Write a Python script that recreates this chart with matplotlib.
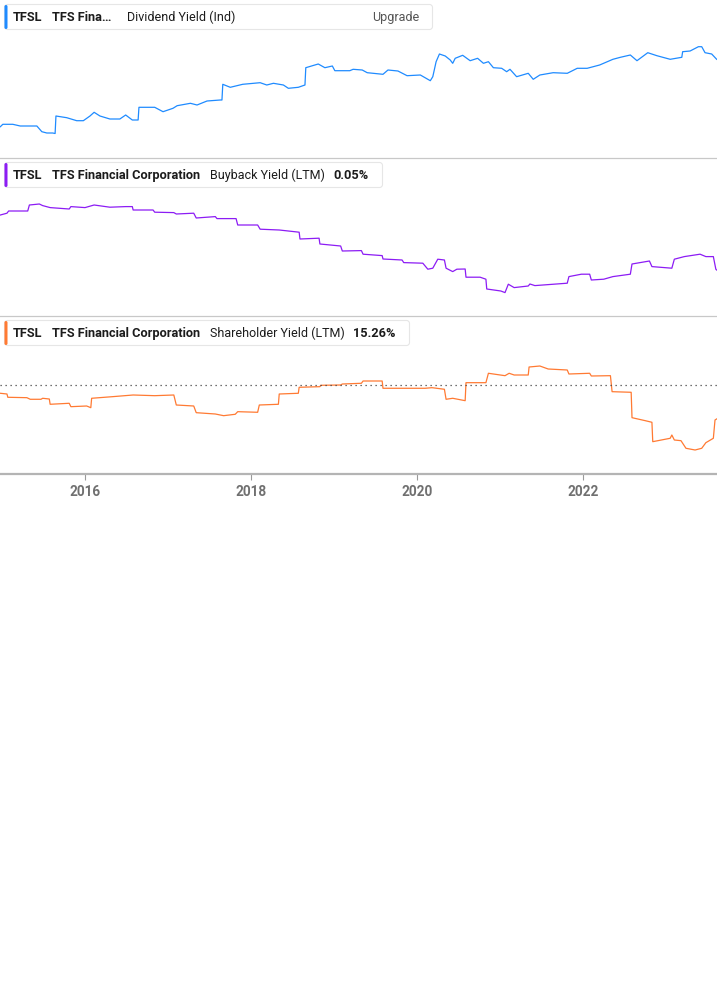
import matplotlib
matplotlib.use("Agg")
import matplotlib.pyplot as plt
from matplotlib.patches import FancyBboxPatch

# ---------------- data (decimal years, values in %) ----------------
div_years = [2014.98, 2015.01, 2015.13, 2015.22, 2015.42, 2015.48, 2015.54, 2015.61, 2015.64,
             2015.65, 2015.78, 2015.90, 2015.98, 2016.06, 2016.11, 2016.18, 2016.30, 2016.42,
             2016.49, 2016.57, 2016.64, 2016.65, 2016.75, 2016.84, 2016.94, 2017.06, 2017.11,
             2017.27, 2017.35, 2017.47, 2017.63, 2017.65, 2017.66, 2017.75, 2017.90, 2018.11,
             2018.19, 2018.27, 2018.39, 2018.45, 2018.57, 2018.65, 2018.66, 2018.81, 2018.89,
             2018.98, 2019.01, 2019.19, 2019.23, 2019.34, 2019.40, 2019.59, 2019.65, 2019.77,
             2019.88, 2020.04, 2020.16, 2020.19, 2020.23, 2020.27, 2020.34, 2020.40, 2020.43,
             2020.46, 2020.55, 2020.64, 2020.73, 2020.80, 2020.86, 2020.92, 2021.02, 2021.08,
             2021.12, 2021.20, 2021.34, 2021.40, 2021.48, 2021.64, 2021.81, 2021.93, 2022.05,
             2022.20, 2022.36, 2022.45, 2022.57, 2022.65, 2022.78, 2022.89, 2023.05, 2023.19,
             2023.20, 2023.29, 2023.39, 2023.43, 2023.47, 2023.55, 2023.61]
div_values = [1.33, 1.57, 1.57, 1.40, 1.40, 0.83, 0.70, 0.70, 0.65,
              2.40, 2.23, 1.93, 1.93, 2.40, 2.77, 2.40, 2.10, 2.10,
              2.50, 2.00, 2.00, 3.27, 3.27, 3.27, 2.83, 3.17, 3.43,
              3.67, 3.50, 3.90, 4.00, 4.00, 5.57, 5.27, 5.57, 5.73,
              5.50, 5.67, 5.50, 5.17, 5.27, 5.50, 7.23, 7.60, 7.23,
              7.40, 6.93, 6.93, 7.07, 7.00, 6.73, 6.57, 7.00, 6.90,
              6.43, 6.50, 5.93, 6.33, 7.83, 8.60, 8.40, 8.00, 7.67,
              8.17, 8.47, 7.93, 8.17, 7.67, 7.83, 7.23, 7.17, 6.83,
              7.07, 6.33, 6.67, 6.07, 6.50, 6.73, 6.67, 7.17, 7.17,
              7.50, 8.07, 8.27, 8.50, 7.93, 8.73, 8.43, 8.07, 8.27,
              8.83, 8.90, 9.33, 9.33, 8.73, 8.60, 8.07]

buy_years = [2014.98, 2015.06, 2015.08, 2015.31, 2015.33, 2015.45, 2015.49, 2015.58, 2015.81,
             2015.83, 2016.00, 2016.11, 2016.30, 2016.49, 2016.57, 2016.58, 2016.82, 2016.84,
             2017.07, 2017.10, 2017.31, 2017.34, 2017.57, 2017.59, 2017.82, 2017.84, 2018.08,
             2018.11, 2018.34, 2018.58, 2018.59, 2018.82, 2018.83, 2019.08, 2019.10, 2019.33,
             2019.35, 2019.58, 2019.59, 2019.82, 2019.84, 2020.07, 2020.13, 2020.19, 2020.25,
             2020.33, 2020.35, 2020.43, 2020.48, 2020.58, 2020.59, 2020.76, 2020.83, 2020.84,
             2021.01, 2021.06, 2021.10, 2021.17, 2021.34, 2021.36, 2021.42, 2021.81, 2021.83,
             2021.98, 2022.08, 2022.10, 2022.25, 2022.36, 2022.57, 2022.59, 2022.80, 2022.83,
             2023.07, 2023.10, 2023.22, 2023.41, 2023.48, 2023.57, 2023.60, 2023.61]
buy_values = [4.25, 4.34, 4.45, 4.45, 4.75, 4.80, 4.72, 4.62, 4.55,
              4.67, 4.62, 4.75, 4.64, 4.67, 4.67, 4.50, 4.50, 4.39,
              4.37, 4.30, 4.34, 4.10, 4.17, 4.07, 4.07, 3.75, 3.75,
              3.54, 3.50, 3.39, 3.05, 3.09, 2.80, 2.70, 2.45, 2.47,
              2.29, 2.22, 2.05, 2.00, 1.87, 1.84, 1.54, 1.59, 2.04,
              2.00, 1.59, 1.42, 1.54, 1.55, 1.14, 1.14, 1.04, 0.55,
              0.45, 0.37, 0.79, 0.62, 0.70, 0.80, 0.72, 0.84, 1.17,
              1.29, 1.29, 1.00, 1.04, 1.17, 1.29, 1.80, 1.95, 1.67,
              1.59, 2.04, 2.17, 2.29, 2.17, 2.17, 1.54, 1.50]

sh_years = [2014.98, 2015.06, 2015.07, 2015.30, 2015.34, 2015.47, 2015.49, 2015.57, 2015.58,
            2015.81, 2015.83, 2016.02, 2016.07, 2016.08, 2016.33, 2016.58, 2016.84, 2017.07,
            2017.10, 2017.31, 2017.34, 2017.57, 2017.67, 2017.81, 2017.84, 2018.08, 2018.10,
            2018.33, 2018.34, 2018.57, 2018.58, 2018.83, 2018.84, 2019.08, 2019.10, 2019.33,
            2019.35, 2019.58, 2019.59, 2020.10, 2020.18, 2020.33, 2020.35, 2020.43, 2020.58,
            2020.59, 2020.83, 2020.86, 2021.06, 2021.11, 2021.17, 2021.34, 2021.35, 2021.48,
            2021.58, 2021.81, 2021.83, 2022.08, 2022.10, 2022.33, 2022.35, 2022.58, 2022.59,
            2022.75, 2022.83, 2022.84, 2023.05, 2023.07, 2023.10, 2023.18, 2023.24, 2023.35,
            2023.43, 2023.48, 2023.57, 2023.59, 2023.61]
sh_values = [21.68, 21.50, 20.68, 20.58, 20.18, 20.18, 20.43, 20.25, 18.93,
             19.18, 18.33, 18.50, 18.08, 20.43, 20.83, 21.25, 21.08, 21.25,
             18.75, 18.50, 16.83, 16.50, 16.08, 16.43, 17.08, 16.93, 18.75,
             18.93, 21.50, 21.68, 23.18, 23.33, 23.68, 23.75, 24.00, 24.18,
             24.75, 24.75, 22.93, 22.93, 23.08, 22.68, 20.18, 20.43, 19.83,
             24.33, 24.33, 26.68, 26.08, 26.68, 26.25, 26.25, 28.25, 28.50,
             27.75, 27.50, 26.50, 26.68, 26.00, 26.08, 22.08, 21.93, 15.58,
             14.83, 14.43, 9.58, 10.43, 11.25, 10.00, 9.83, 7.93, 7.50,
             7.93, 9.33, 10.43, 15.00, 15.26]
sh_reference = 23.75

tick_years = [2016, 2018, 2020, 2022]
tick_labels = ["2016", "2018", "2020", "2022"]

ticker = "TFSL"
company = "TFS Financial Corporation"
company_short = "TFS Fina\u2026"
metrics = ["Dividend Yield (Ind)", "Buyback Yield (LTM)", "Shareholder Yield (LTM)"]
metric_values = [None, "0.05%", "15.26%"]

# ---------------- figure ----------------
W, H = 717, 1005
fig = plt.figure(figsize=(W / 100, H / 100), dpi=100)
fig.patch.set_facecolor("white")

C_BLUE = "#1f8bff"
C_PURPLE = "#8c1cf4"
C_ORANGE = "#ff7a33"

XMIN, XMAX = 2014.976, 2023.614


def panel(top, bottom):
    return fig.add_axes([0, (H - bottom) / H, 1, (bottom - top) / H])


ax1 = panel(0, 158)
ax2 = panel(158, 316)
ax3 = panel(316, 474)

ax1.plot(div_years, div_values, color=C_BLUE, lw=0.9)
ax1.set_ylim(-1.8, 14.0)
ax2.plot(buy_years, buy_values, color=C_PURPLE, lw=0.9)
ax2.set_ylim(-0.8, 7.1)
ax3.plot(sh_years, sh_values, color=C_ORANGE, lw=0.9)
ax3.axhline(sh_reference, color="#444444", lw=0.9, ls=(0, (1, 3)))
ax3.set_ylim(1.5, 41.0)

for ax in (ax1, ax2, ax3):
    ax.set_xlim(XMIN, XMAX)
    ax.set_facecolor("none")
    for s in ("top", "left", "right"):
        ax.spines[s].set_visible(False)
    ax.set_yticks([])

for ax in (ax1, ax2):
    ax.spines["bottom"].set_color("#c8c8c8")
    ax.spines["bottom"].set_linewidth(0.9)
    ax.set_xticks([])

ax3.spines["bottom"].set_color("#b4b4b4")
ax3.spines["bottom"].set_linewidth(1.6)
ax3.set_xticks(tick_years)
ax3.set_xticklabels(tick_labels, fontweight="bold", fontfamily="Roboto")
ax3.tick_params(axis="x", length=4, width=0.8, color="#9a9a9a", pad=4,
                labelsize=9.8, labelcolor="#707070")

# ---------------- overlay in pixel coordinates ----------------
ov = fig.add_axes([0, 0, 1, 1], zorder=10)
ov.set_xlim(0, W)
ov.set_ylim(H, 0)
ov.axis("off")
ov.patch.set_alpha(0)

FONT = "Roboto"
TXT = "#1c1c1c"
FS = 9.0
FSB = 9.2


def legend_box(y0, width, color, name, metric, value, upgrade=False):
    ov.add_patch(FancyBboxPatch((4.5, y0 + 0.5), width, 25,
                                boxstyle="round,pad=0,rounding_size=3",
                                fc="white", ec="#e6e6e6", lw=0.8))
    ov.add_patch(FancyBboxPatch((4.5, y0 + 1), 3, 24,
                                boxstyle="round,pad=0,rounding_size=1.5",
                                fc=color, ec="none"))
    yc = y0 + 13.5
    ov.text(13, yc, ticker, fontsize=FSB, fontweight="bold", color=TXT,
            family=FONT, va="center", ha="left")
    ov.text(52, yc, name, fontsize=FSB, fontweight="bold", color=TXT,
            family=FONT, va="center", ha="left")
    mx = 127 if upgrade else 210
    ov.text(mx, yc, metric, fontsize=FS, color=TXT,
            family=FONT, va="center", ha="left")
    if value is not None:
        vx = 333 if len(value) < 6 else 353
        ov.text(vx, yc, value, fontsize=FSB, fontweight="bold", color=TXT,
                family=FONT, va="center", ha="left")
    if upgrade:
        ov.text(419, yc, "Upgrade", fontsize=FS, color="#555555",
                family=FONT, va="center", ha="right")


legend_box(4, 428, C_BLUE, company_short, metrics[0], metric_values[0], upgrade=True)
legend_box(162, 378, C_PURPLE, company, metrics[1], metric_values[1])
legend_box(320, 405, C_ORANGE, company, metrics[2], metric_values[2])

fig.savefig("out.png", dpi=100, facecolor="white")
